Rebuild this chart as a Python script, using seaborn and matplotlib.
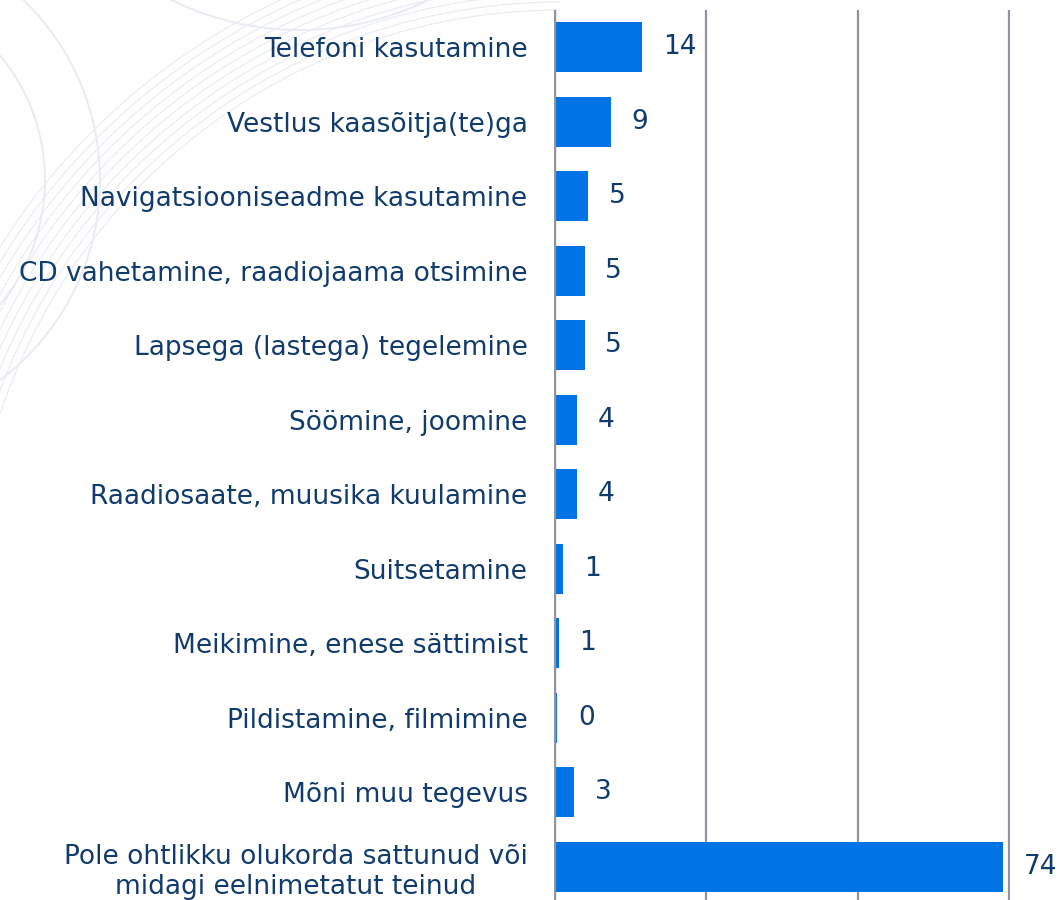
import matplotlib
matplotlib.use("Agg")
import matplotlib.pyplot as plt
from matplotlib.patches import Arc
import pandas as pd
import seaborn as sns

# data (bar lengths, labels shown rounded)
activities = [
    "Telefoni kasutamine",
    "Vestlus kaasõitja(te)ga",
    "Navigatsiooniseadme kasutamine",
    "CD vahetamine, raadiojaama otsimine",
    "Lapsega (lastega) tegelemine",
    "Söömine, joomine",
    "Raadiosaate, muusika kuulamine",
    "Suitsetamine",
    "Meikimine, enese sättimist",
    "Pildistamine, filmimine",
    "Mõni muu tegevus",
    "Pole ohtlikku olukorda sattunud või\nmidagi eelnimetatut teinud",
]
shares = [14.4, 9.2, 5.4, 4.9, 4.9, 3.6, 3.6, 1.4, 0.6, 0.4, 3.1, 74.0]
grid_ticks = [0, 25, 50, 75]

bar_color = "#0073E6"
text_color = "#113B6C"
grid_color = "#8F94A4"
arc_color = "#E8EBF1"

df = pd.DataFrame({"activity": activities, "share": shares})

sns.set_theme(style="white")
plt.rcParams["font.family"] = ["DejaVu Sans"]

fig = plt.figure(figsize=(10.6, 9), dpi=100)

# faint decorative arcs in the background (watermark)
bg = fig.add_axes([0, 0, 1, 1], zorder=0)
bg.set_xlim(0, 1060)
bg.set_ylim(900, 0)
bg.axis("off")
for r in range(590, 665, 8):
    bg.add_patch(Arc((560, 600), 2 * r, 2 * r, theta1=180, theta2=270,
                      color=arc_color, lw=0.8))
for r in (195, 250):
    bg.add_patch(Arc((-150, 180), 2 * r, 2 * r, theta1=-90, theta2=90,
                      color=arc_color, lw=1.4))
bg.add_patch(Arc((300, -260), 580, 580, theta1=20, theta2=160,
                  color=arc_color, lw=1.4))

ax = fig.add_axes([554 / 1060, -4 / 900, 456 / 1060, 894 / 900], zorder=1)
ax.patch.set_alpha(0)

sns.barplot(data=df, x="share", y="activity", orient="h", color=bar_color,
            saturation=1, width=0.67, linewidth=0, ax=ax)

ax.set_xlim(-0.15, 75.15)
ax.set_xticks(grid_ticks)
ax.set_xticklabels([])
ax.xaxis.grid(True, color=grid_color, linewidth=1.6)
ax.set_axisbelow(True)
# the zero line stays visible over the bar starts
ax.axvline(0, color=grid_color, linewidth=1.6, zorder=3)
ax.tick_params(axis="both", length=0)
ax.tick_params(axis="y", labelsize=19, labelcolor=text_color, pad=19)
for s in ax.spines.values():
    s.set_visible(False)
ax.set_xlabel("")
ax.set_ylabel("")
ax.get_yticklabels()[-1].set_multialignment("center")

ax.bar_label(ax.containers[0], labels=[f"{v:.0f}" for v in shares],
             padding=15, fontsize=19, color=text_color)

fig.savefig("out.png", dpi=100)
